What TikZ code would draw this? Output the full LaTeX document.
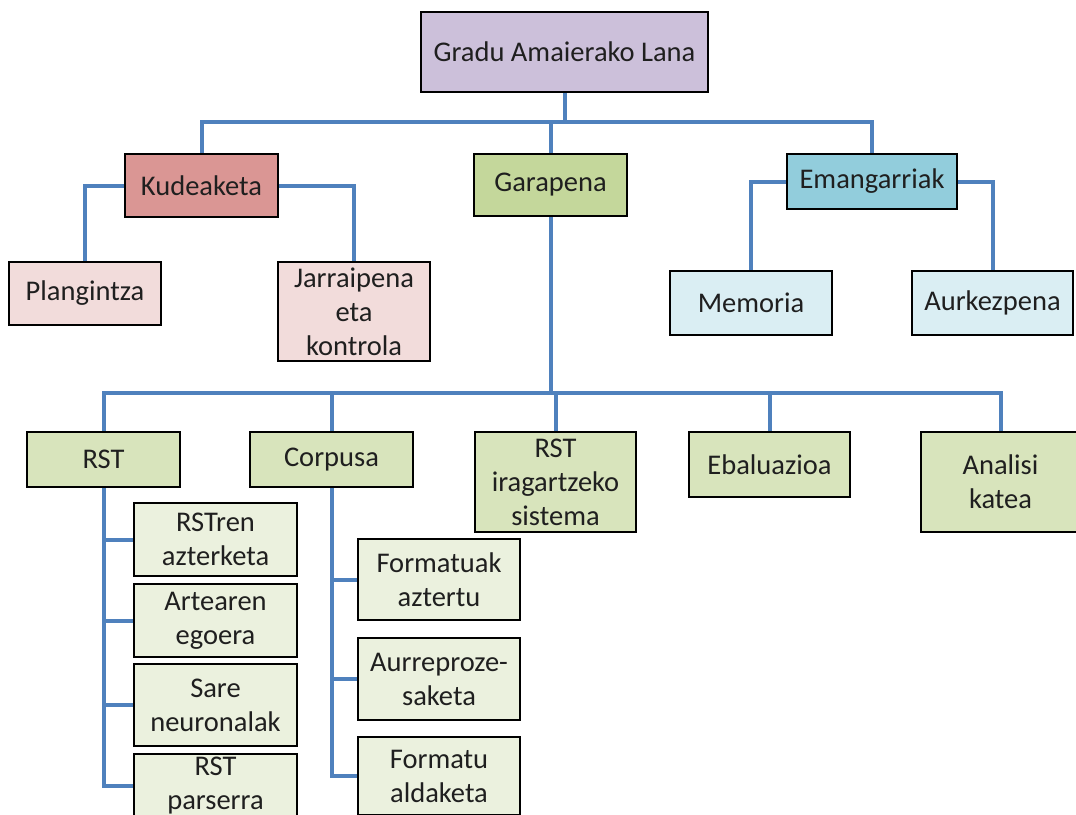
\documentclass[tikz,border=0pt]{standalone}
\usepackage{fontspec}
\setmainfont{Carlito}
\usetikzlibrary{backgrounds}
\definecolor{lav}{HTML}{CCC0DA}
\definecolor{rose}{HTML}{DA9694}
\definecolor{pinkl}{HTML}{F2DCDB}
\definecolor{greenm}{HTML}{C4D79B}
\definecolor{greenl}{HTML}{D8E4BC}
\definecolor{greenxl}{HTML}{EBF1DE}
\definecolor{bluem}{HTML}{92CDDC}
\definecolor{bluel}{HTML}{DAEEF3}
\definecolor{linkc}{HTML}{4F81BD}
\tikzset{
  box/.style={draw=black, line width=2.9pt, rectangle, inner sep=0pt, align=center,
    font=\fontsize{28.5}{34}\selectfont, text=black!88},
  sz/.style 2 args={minimum width=#1pt, minimum height=#2pt},
  link/.style={draw=linkc, line width=4pt},
}
\begin{document}
\begin{tikzpicture}[x=1pt, y=-1pt]
\useasboundingbox (0,0) rectangle (1076,814);

% top level
\node[box, fill=lav, sz={287}{80}] (gal) at (564.5,52) {Gradu Amaierako Lana};

% second level
\node[box, fill=rose, sz={153}{63}] (kud) at (201.5,185.5) {Kudeaketa};
\node[box, fill=greenm, sz={153}{62}] (gar) at (550.5,185) {Garapena};
\node[box, fill=bluem, sz={170}{55}] (eman) at (872,181.5) {Emangarriak};

% management and deliverables
\node[box, fill=pinkl, sz={152}{63}] (plan) at (85,293.5) {Plangintza};
\node[box, fill=pinkl, sz={152}{99}] (jarr) at (354,311.5) {Jarraipena\\eta\\kontrola};
\node[box, fill=bluel, sz={162}{64}] (memo) at (751,303) {Memoria};
\node[box, fill=bluel, sz={161}{64}] (aurk) at (992.5,303) {Aurkezpena};

% development tasks
\node[box, fill=greenl, sz={153}{55}] (rst) at (103.5,459.5) {RST};
\node[box, fill=greenl, sz={163}{55}] (corp) at (331.5,459.5) {Corpusa};
\node[box, fill=greenl, sz={161}{100}] (rsti) at (555.5,482) {RST\\iragartzeko\\sistema};
\node[box, fill=greenl, sz={161}{65}] (ebal) at (769.5,464.5) {Ebaluazioa};
\node[box, fill=greenl, sz={159}{100}] (anal) at (1000.5,482) {Analisi\\katea};

% RST subtasks
\node[box, fill=greenxl, sz={163}{73}] (c1) at (215.5,539.5) {RSTren\\azterketa};
\node[box, fill=greenxl, sz={163}{73}] (c2) at (215.5,620.5) {Artearen\\egoera};
\node[box, fill=greenxl, sz={163}{82}] (c3) at (215.5,705) {Sare\\neuronalak};
\node[box, fill=greenxl, sz={163}{64}] (c4) at (215.5,786) {RST\\parserra};

% corpus subtasks
\node[box, fill=greenxl, sz={162}{81}] (f1) at (439,579.5) {Formatuak\\aztertu};
\node[box, fill=greenxl, sz={162}{82}] (f2) at (439,679) {Aurreproze-\\saketa};
\node[box, fill=greenxl, sz={162}{78}] (f3) at (439,776) {Formatu\\aldaketa};

\coordinate (bus1) at (564,122);
\coordinate (bus2) at (550,393);

\begin{pgfonlayer}{background}
  % root to second level
  \draw[link] (gal.south) -- (gal.south |- bus1);
  \draw[link] (kud.north) -- (kud.north |- bus1) -| (eman.north);
  \draw[link] (gar.north) -- (gar.north |- bus1);
  % management
  \draw[link] (kud.west) -| (plan.north);
  \draw[link] (kud.east) -| (jarr.north);
  % deliverables
  \draw[link] (eman.west) -| (memo.north);
  \draw[link] (eman.east) -| (aurk.north);
  % development
  \draw[link] (gar.south) -- (gar.south |- bus2);
  \draw[link] (rst.north) -- (rst.north |- bus2) -| (anal.north);
  \draw[link] (corp.north) -- (corp.north |- bus2);
  \draw[link] (rsti.north) -- (rsti.north |- bus2);
  \draw[link] (ebal.north) -- (ebal.north |- bus2);
  % RST subtasks
  \draw[link] (rst.south) |- (c4.west);
  \foreach \c in {c1,c2,c3} \draw[link] (rst.south |- \c.west) -- (\c.west);
  % corpus subtasks
  \draw[link] (corp.south) |- (f3.west);
  \foreach \c in {f1,f2} \draw[link] (corp.south |- \c.west) -- (\c.west);
\end{pgfonlayer}
\end{tikzpicture}
\end{document}
